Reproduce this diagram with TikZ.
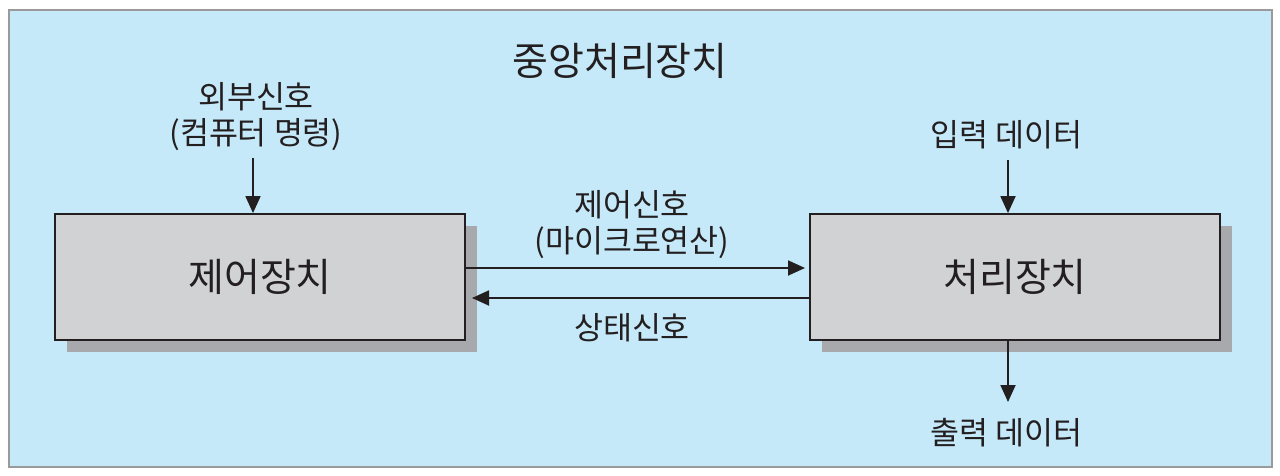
\documentclass[tikz,border=0pt]{standalone}
\usepackage{fontspec}
\newfontfamily\kr{Noto Sans CJK KR}
\usetikzlibrary{arrows.meta}
\definecolor{bgblue}{HTML}{C5E9F9}
\definecolor{framegray}{HTML}{9A9A9A}
\definecolor{boxgray}{HTML}{D1D2D4}
\definecolor{shadowgray}{HTML}{A7A9AC}
\definecolor{ink}{HTML}{231F20}
\tikzset{
  unitbox/.style={draw=ink, line width=1.8pt, fill=boxgray, minimum width=410pt, minimum height=126pt, inner sep=0pt, text=ink, font=\kr\fontsize{39}{42}\selectfont},
  biglabel/.style={text=ink, inner sep=0pt, font=\kr\fontsize{39}{42}\selectfont},
  smalllabel/.style={text=ink, inner sep=0pt, font=\kr\fontsize{31.5}{35}\selectfont},
  flow/.style={draw=ink, line width=1.8pt, -{Triangle[length=17pt,width=15pt]}},
}
\begin{document}
\begin{tikzpicture}[x=1pt,y=-1pt]
\useasboundingbox (0,0) rectangle (1280,475);
\fill[framegray] (8,9) rectangle (1273,468);
\fill[bgblue] (10,11) rectangle (1271,466);
% shadows
\fill[shadowgray] (67,226) rectangle (477,352);
\fill[shadowgray] (822,226) rectangle (1232,352);
\node[unitbox] (cu) at (260,277) {제어장치};
\node[unitbox] (pu) at (1015,277) {처리장치};
\node[biglabel] (title) at (620,61) {중앙처리장치};
\node[smalllabel] (ext1) at (256,97) {외부신호};
\node[smalllabel] (ext2) at (256,135) {(컴퓨터 명령)};
\node[smalllabel] (cs1) at (632,205) {제어신호};
\node[smalllabel] (cs2) at (632,243) {(마이크로연산)};
\node[smalllabel] (ss) at (632,328) {상태신호};
\node[smalllabel] (in) at (1006,135) {입력 데이터};
\node[smalllabel] (out) at (1006,433) {출력 데이터};
\coordinate (extA) at (253,158);
\coordinate (inA) at (1008,160);
\coordinate (outB) at (1008,402);
\coordinate (csEnd) at (805,268);
\coordinate (ssEnd) at (472,298);
\draw[flow] (extA) -- (extA |- cu.north);
\draw[flow] (inA) -- (inA |- pu.north);
\draw[flow] (outB |- pu.south) -- (outB);
\draw[flow] (cu.east |- csEnd) -- (csEnd);
\draw[flow] (pu.west |- ssEnd) -- (ssEnd);
\end{tikzpicture}
\end{document}
